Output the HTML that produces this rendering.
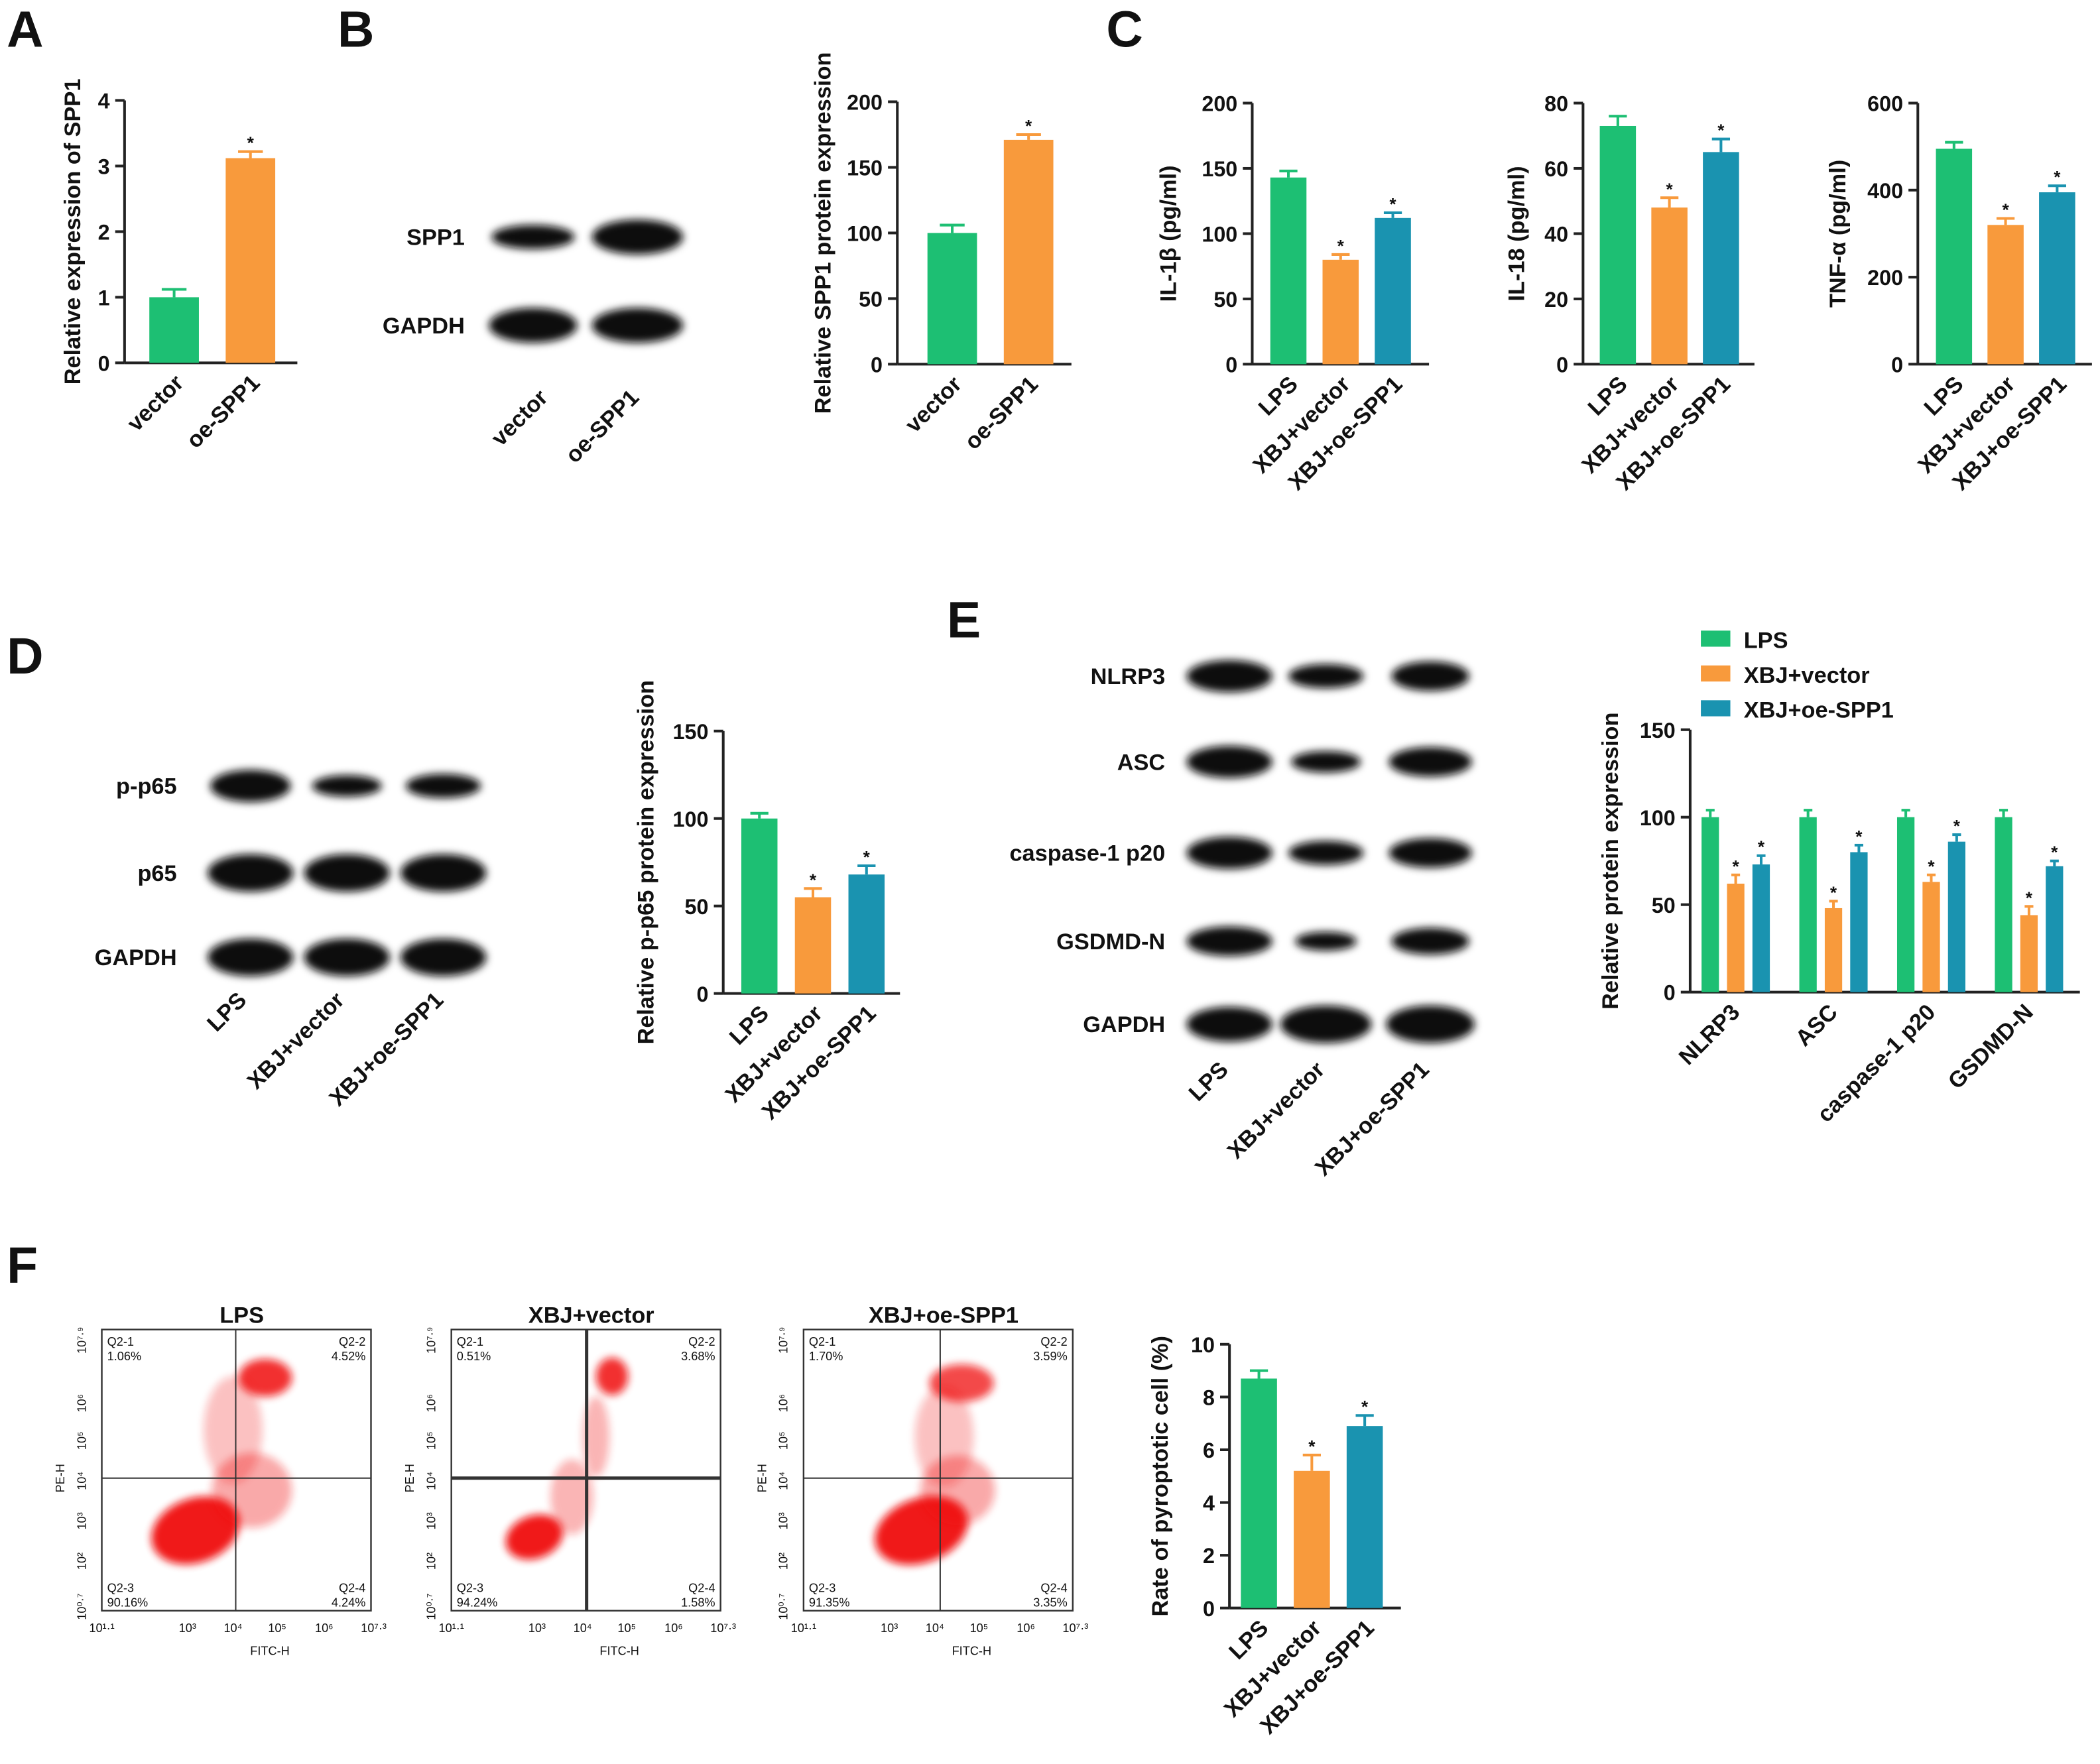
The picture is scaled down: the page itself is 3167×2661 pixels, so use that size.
<!DOCTYPE html>
<html><head><meta charset="utf-8"><style>
html,body{margin:0;padding:0;background:#fff}
svg{display:block}
text{font-family:"Liberation Sans",Arial,sans-serif;font-weight:bold;fill:#111}
</style></head><body>
<svg id="fig" width="3167" height="2661" viewBox="0 0 1568 1317.5" xmlns="http://www.w3.org/2000/svg">
<defs>
<filter id="blur" x="-20%" y="-50%" width="140%" height="200%"><feGaussianBlur stdDeviation="3"/></filter>
<filter id="blur2" x="-50%" y="-50%" width="200%" height="200%"><feGaussianBlur stdDeviation="3"/></filter>
</defs>
<g id="root"></g>
</svg>
<script>
// ---------- data ----------
const catA=["vector","oe-SPP1"];
const valA=[1.0,3.12];
const errA=[0.12,0.1];
const ticksA=[0,1,2,3,4];
const catB=["vector","oe-SPP1"];
const valB=[100,171];
const errB=[6,4];
const ticksB=[0,50,100,150,200];
const groups3=["LPS","XBJ+vector","XBJ+oe-SPP1"];
const valIL1b=[143,80,112];
const errIL1b=[5,4,4];
const ticksIL1b=[0,50,100,150,200];
const valIL18=[73,48,65];
const errIL18=[3,3,4];
const ticksIL18=[0,20,40,60,80];
const valTNF=[495,320,395];
const errTNF=[15,15,15];
const ticksTNF=[0,200,400,600];
const valD=[100,55,68];
const errD=[3,5,5];
const ticksD=[0,50,100,150];
const catE=["NLRP3","ASC","caspase-1 p20","GSDMD-N"];
const valE_LPS=[100,100,100,100];
const valE_vec=[62,48,63,44];
const valE_oe=[73,80,86,72];
const errE_LPS=[4,4,4,4];
const errE_vec=[5,4,4,5];
const errE_oe=[5,4,4,3];
const ticksE=[0,50,100,150];
const valF=[8.7,5.2,6.9];
const errF=[0.3,0.6,0.4];
const ticksF=[0,2,4,6,8,10];
const colors=["#1dbf73","#f89a3c","#1a93b0"];

const NS="http://www.w3.org/2000/svg";
const root=document.getElementById("root");
function el(tag,attrs,parent,txt){const e=document.createElementNS(NS,tag);for(const k in attrs)e.setAttribute(k,attrs[k]);if(txt!==undefined)e.textContent=txt;(parent||root).appendChild(e);return e;}

function chart(name,o){
  const g=el("g",{});
  
  
  const max=o.ticks[o.ticks.length-1];
  const y=v=>o.bottom-(v/max)*(o.bottom-o.top);
  const ya=el("line",{x1:o.ax,y1:o.top,x2:o.ax,y2:o.bottom,stroke:"#222","stroke-width":2},g);
  
  
  const xa=el("line",{x1:o.ax,y1:o.bottom,x2:o.axEnd,y2:o.bottom,stroke:"#222","stroke-width":2},g);
  
  
  o.ticks.forEach(t=>{
    el("line",{x1:o.ax-7,y1:y(t),x2:o.ax,y2:y(t),stroke:"#222","stroke-width":2},g);
    const tl=el("text",{x:o.ax-11,y:y(t)+6,"text-anchor":"end","font-size":16},g,String(t));
    
    
  });
  const yt=el("text",{transform:`translate(${o.titleX},${(o.top+o.bottom)/2}) rotate(-90)`,"text-anchor":"middle","font-size":17},g,o.title);
  
  
  o.series.forEach((s,si)=>{
    s.vals.forEach((v,i)=>{
      const cx=o.x0+i*o.gstep+(si-(o.series.length-1)/2)*o.off;
      const w=o.bw;
      const col=s.color||colors[i];
      const r=el("rect",{x:cx-w/2,y:y(v),width:w,height:o.bottom-y(v),fill:col},g);
      
      
      const et=y(v+s.err[i]);
      el("line",{x1:cx,y1:y(v),x2:cx,y2:et,stroke:col,"stroke-width":2},g);
      el("line",{x1:cx-w/4,y1:et,x2:cx+w/4,y2:et,stroke:col,"stroke-width":2},g);
      if(s.star&&s.star[i]){
        const st=el("text",{x:cx,y:et-2,"text-anchor":"middle","font-size":13},g,"*");
        
        
      }
    });
  });
  o.cats.forEach((c,i)=>{
    const cx=o.x0+i*o.gstep+(o.labShift||0);
    const t=el("text",{transform:`translate(${cx+8},${o.bottom+16}) rotate(-45)`,"text-anchor":"end","font-size":17},g,c);
    
    
  });
}
function star3(){return [false,true,true];}

chart("chart-a",{ax:93,axEnd:222,top:75,bottom:271,ticks:ticksA,title:"Relative expression of SPP1",titleX:60,
  x0:130,gstep:57,off:0,bw:37,cats:catA,series:[{vals:valA,err:errA,star:[false,true]}]});
chart("chart-b",{ax:670,axEnd:800,top:76,bottom:272,ticks:ticksB,title:"Relative SPP1 protein expression",titleX:620,
  x0:711,gstep:57,off:0,bw:37,cats:catB,series:[{vals:valB,err:errB,star:[false,true]}]});
chart("chart-il1b",{ax:935,axEnd:1067,top:77,bottom:272,ticks:ticksIL1b,title:"IL-1β (pg/ml)",titleX:878,
  x0:962,gstep:39,off:0,bw:27,cats:groups3,series:[{vals:valIL1b,err:errIL1b,star:star3()}]});
chart("chart-il18",{ax:1182,axEnd:1310,top:77,bottom:272,ticks:ticksIL18,title:"IL-18 (pg/ml)",titleX:1138,
  x0:1208,gstep:38.5,off:0,bw:27,cats:groups3,series:[{vals:valIL18,err:errIL18,star:star3()}]});
chart("chart-tnf",{ax:1432,axEnd:1562,top:77,bottom:272,ticks:ticksTNF,title:"TNF-α (pg/ml)",titleX:1378,
  x0:1459,gstep:38.5,off:0,bw:27,cats:groups3,series:[{vals:valTNF,err:errTNF,star:star3()}]});
chart("chart-d",{ax:540,axEnd:672,top:546,bottom:742,ticks:ticksD,title:"Relative p-p65 protein expression",titleX:488,
  x0:567,gstep:40,off:0,bw:27,cats:groups3,series:[{vals:valD,err:errD,star:star3()}]});
chart("chart-e",{ax:1262,axEnd:1553,top:545,bottom:741,ticks:ticksE,title:"Relative protein expression",titleX:1208,
  x0:1296,gstep:73,off:19,bw:13,labShift:-4,cats:catE,series:[
   {name:"lps",vals:valE_LPS,err:errE_LPS,color:colors[0]},
   {name:"vector",vals:valE_vec,err:errE_vec,color:colors[1],star:[1,1,1,1]},
   {name:"oe",vals:valE_oe,err:errE_oe,color:colors[2],star:[1,1,1,1]}]});
chart("chart-f",{ax:918,axEnd:1046,top:1004,bottom:1201,ticks:ticksF,title:"Rate of pyroptotic cell (%)",titleX:872,
  x0:940,gstep:39.5,off:0,bw:27,cats:groups3,series:[{vals:valF,err:errF,star:star3()}]});
</script>
<script>
[["A",5,35],["B",252,35],["C",826,35],["D",5,503],["E",707,476],["F",5,958]].forEach(p=>{
  const t=el("text",{x:p[1],y:p[2],"font-size":38},root,p[0]);
  
  
});

function blot(name,labels,labX,rows,xs,widths,heights){
  const g=el("g",{});
  
  
  rows.forEach((ry,ri)=>{
    const l=el("text",{x:labX,y:ry+6,"text-anchor":"end","font-size":17},g,labels[ri]);
    
    
    xs.forEach((bx,bi)=>{
      const b=el("ellipse",{cx:bx,cy:ry,rx:widths[ri][bi]/2,ry:heights[ri][bi]/2,fill:"#0a0a0a",filter:"url(#blur)"},g);
      
      
    });
  });
}
blot("blot-b",["SPP1","GAPDH"],347,[177,243],[398,476],[[62,68],[66,68]],[[18,26],[26,26]]);
[["vector",410],["oe-SPP1",478]].forEach(c=>{const t=el("text",{transform:`translate(${c[1]},298) rotate(-45)`,"text-anchor":"end","font-size":17},root,c[0]);});
blot("blot-d",["p-p65","p65","GAPDH"],132,[587,652,715],[187,259,331],[[60,52,56],[64,64,64],[64,64,64]],[[24,16,18],[28,28,28],[28,28,28]]);
[["LPS",185],["XBJ+vector",258],["XBJ+oe-SPP1",332]].forEach(c=>{const t=el("text",{transform:`translate(${c[1]},748) rotate(-45)`,"text-anchor":"end","font-size":17},root,c[0]);});
blot("blot-e",["NLRP3","ASC","caspase-1 p20","GSDMD-N","GAPDH"],870,[505,569,637,703,765],[918,990,1068],[[64,56,58],[64,52,62],[64,56,62],[64,46,58],[64,68,66]],[[24,18,22],[24,16,22],[24,18,22],[22,14,20],[26,28,28]]);
[["LPS",918],["XBJ+vector",990],["XBJ+oe-SPP1",1068]].forEach(c=>{const t=el("text",{transform:`translate(${c[1]},800) rotate(-45)`,"text-anchor":"end","font-size":17},root,c[0]);});

const lg=el("g",{});


["LPS","XBJ+vector","XBJ+oe-SPP1"].forEach((n,i)=>{
  el("rect",{x:1270,y:471+i*26,width:22,height:12,fill:colors[i]},lg);
  const t=el("text",{x:1302,y:484+i*26,"font-size":17},lg,n);
  
  
});

function flow(name,x0,title,q,cross,thick,clouds){
  const g=el("g",{});
  
  
  const w=201,top=993,h=210;
  const tt=el("text",{x:x0+w/2+4,y:988,"text-anchor":"middle","font-size":17},g,title);
  
  
  clouds.forEach(c=>el("ellipse",{cx:x0+c[0],cy:top+c[1],rx:c[2],ry:c[3],fill:"#f01010",opacity:c[4],filter:"url(#blur2)",transform:`rotate(${c[5]||0} ${x0+c[0]} ${top+c[1]})`},g));
  el("rect",{x:x0,y:top,width:w,height:h,fill:"none",stroke:"#333","stroke-width":1.2},g);
  el("line",{x1:x0+cross,y1:top,x2:x0+cross,y2:top+h,stroke:"#333","stroke-width":thick},g);
  el("line",{x1:x0,y1:top+111,x2:x0+w,y2:top+111,stroke:"#333","stroke-width":thick},g);
  const qt=[["Q2-1",x0+4,top+12,"start"],[q[0],x0+4,top+23,"start"],["Q2-2",x0+w-4,top+12,"end"],[q[1],x0+w-4,top+23,"end"],
            ["Q2-3",x0+4,top+h-14,"start"],[q[2],x0+4,top+h-3,"start"],["Q2-4",x0+w-4,top+h-14,"end"],[q[3],x0+w-4,top+h-3,"end"]];
  qt.forEach(a=>{const t=el("text",{x:a[1],y:a[2],"text-anchor":a[3],"font-size":9,style:"font-weight:normal"},g,a[0]);});
  const xl=["10¹·¹","10³","10⁴","10⁵","10⁶","10⁷·³"],xp=[0,64,98,131,166,203];
  xl.forEach((s,i)=>el("text",{x:x0+xp[i],y:top+h+16,"text-anchor":"middle","font-size":9,style:"font-weight:normal"},g,s));
  const yl=["10⁰·⁷","10²","10³","10⁴","10⁵","10⁶","10⁷·⁹"],yp=[207,173,143,113,83,55,8];
  yl.forEach((s,i)=>el("text",{transform:`translate(${x0-12},${top+yp[i]}) rotate(-90)`,"text-anchor":"middle","font-size":9,style:"font-weight:normal"},g,s));
  el("text",{x:x0+w/2+25,y:top+h+33,"text-anchor":"middle","font-size":9,style:"font-weight:normal"},g,"FITC-H");
  el("text",{transform:`translate(${x0-28},${top+111}) rotate(-90)`,"text-anchor":"middle","font-size":9,style:"font-weight:normal"},g,"PE-H");
}
flow("flow-lps",76,"LPS",["1.06%","4.52%","90.16%","4.24%"],100,1,
 [[70,150,34,24,0.95,-20],[112,120,30,28,0.35,0],[122,36,20,14,0.85,0],[98,75,22,40,0.25,0]]);
flow("flow-xbj-vector",337,"XBJ+vector",["0.51%","3.68%","94.24%","1.58%"],101,2.5,
 [[62,155,22,16,0.95,-20],[90,125,16,28,0.3,0],[120,35,12,14,0.85,0],[108,80,10,30,0.3,0]]);
flow("flow-xbj-oe",600,"XBJ+oe-SPP1",["1.70%","3.59%","91.35%","3.35%"],102,1,
 [[88,150,36,24,0.95,-20],[115,120,28,26,0.35,0],[118,40,24,14,0.75,0],[105,80,22,38,0.25,0]]);
</script>
</body></html>
